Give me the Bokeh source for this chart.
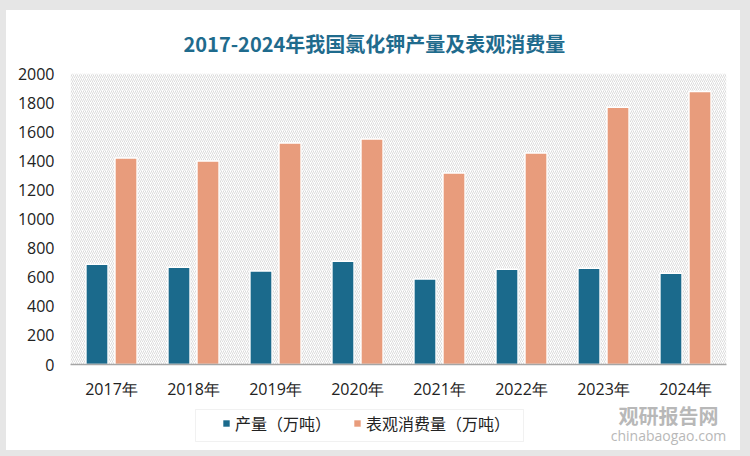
from bokeh.plotting import figure
from bokeh.models import (FactorRange, Range1d, BoxAnnotation, Label, Legend, LegendItem,
                          ColumnDataSource, SingleIntervalTicker, Title)
from bokeh.transform import dodge
from bokeh.layouts import column
from bokeh.embed import file_html
from bokeh.resources import INLINE

years = ["2017年", "2018年", "2019年", "2020年", "2021年", "2022年", "2023年", "2024年"]
production = [689, 669, 642, 710, 587, 655, 662, 628]
consumption = [1420, 1399, 1522, 1550, 1317, 1454, 1768, 1877]
title_text = "2017-2024年我国氯化钾产量及表观消费量"
series_names = ["产量（万吨）", "表观消费量（万吨）"]
colors = ["#1b6a8c", "#e89c7c"]

src = ColumnDataSource(dict(year=years, prod=production, cons=consumption))

p = figure(width=734, height=392, x_range=FactorRange(*years), y_range=(0, 2000),
           output_backend="svg", toolbar_location=None,
           min_border_left=64, min_border_right=14, min_border_top=63, min_border_bottom=36,
           background_fill_color="white", border_fill_color="white", outline_line_color=None)

p.title = Title(text=title_text, align="left", offset=113, standoff=31,
                text_font="Noto Sans CJK SC", text_font_size="20px",
                text_font_style="bold", text_color="#1f6b8d")

# hatched plot background
p.add_layout(BoxAnnotation(fill_color=None, line_color=None, hatch_pattern="/",
                           hatch_color="#dcdcdc", hatch_scale=4, hatch_weight=1,
                           level="underlay"))

# subtle shadows
p.vbar(x=dodge("year", -0.165, range=p.x_range), top="prod", width=0.27, source=src,
       fill_color="#9a9a9a", fill_alpha=0.35, line_color=None)
p.vbar(x=dodge("year", 0.189, range=p.x_range), top="cons", width=0.27, source=src,
       fill_color="#9a9a9a", fill_alpha=0.35, line_color=None)

p.vbar(x=dodge("year", -0.177, range=p.x_range), top="prod", width=0.27, source=src,
       fill_color=colors[0], line_color="white", line_width=1.5)
p.vbar(x=dodge("year", 0.177, range=p.x_range), top="cons", width=0.27, source=src,
       fill_color=colors[1], line_color="white", line_width=1.5)

p.xgrid.grid_line_color = None
p.ygrid.grid_line_color = None

p.yaxis.ticker = SingleIntervalTicker(interval=200)
p.yaxis.axis_line_color = None
p.yaxis.major_tick_line_color = None
p.yaxis.minor_tick_line_color = None
p.yaxis.major_tick_out = 0
p.yaxis.major_label_text_font = "Open Sans"
p.yaxis.major_label_text_font_size = "16px"
p.yaxis.major_label_text_color = "#222222"
p.yaxis.major_label_standoff = 12

p.xaxis.axis_line_color = "#a6a6a6"
p.xaxis.axis_line_width = 1.5
p.xaxis.major_tick_line_color = None
p.xaxis.minor_tick_line_color = None
p.xaxis.major_tick_out = 0
p.xaxis.major_label_text_font = "Open Sans"
p.xaxis.major_label_text_font_size = "16px"
p.xaxis.major_label_text_color = "#222222"
p.xaxis.major_label_standoff = 13

# legend strip (its frame is aligned with the main frame: x 70..726)
q = figure(width=734, height=48, x_range=FactorRange(*years), y_range=Range1d(5000, 6000),
           output_backend="svg", toolbar_location=None, x_axis_type=None, y_axis_type=None,
           min_border_left=0, min_border_right=0, min_border_top=0, min_border_bottom=0,
           background_fill_color="white", border_fill_color="white", outline_line_color=None)
q.xgrid.grid_line_color = None
q.ygrid.grid_line_color = None
l1 = q.vbar(x="year", top="prod", width=0.27, source=src, fill_color=colors[0], line_color=None)
l2 = q.vbar(x="year", top="cons", width=0.27, source=src, fill_color=colors[1], line_color=None)

q.add_layout(BoxAnnotation(left=125, right=453, bottom=9, top=41,
                           left_units="screen", right_units="screen",
                           bottom_units="screen", top_units="screen",
                           fill_color=None, line_color="#d0d0d0", line_width=1))

legend = Legend(items=[LegendItem(label=series_names[0], renderers=[l1]),
                       LegendItem(label=series_names[1], renderers=[l2])],
                location=(152, 15), orientation="horizontal",
                glyph_width=8, glyph_height=8, label_text_font="Noto Sans CJK SC",
                label_text_font_size="16px", label_text_color="#222222",
                border_line_color=None, background_fill_alpha=0,
                padding=8, spacing=22, margin=0, label_standoff=5)
q.add_layout(legend, "center")

q.add_layout(Label(x=598, y=35, x_units="screen", y_units="screen", text="观研报告网",
                   text_align="center", text_baseline="middle", text_font="Noto Sans CJK SC",
                   text_font_size="20px", text_font_style="bold", text_color="#b8b8b8"))
q.add_layout(Label(x=598, y=15, x_units="screen", y_units="screen", text="chinabaogao.com",
                   text_align="center", text_baseline="middle", text_font="Open Sans",
                   text_font_size="14px", text_color="#b8b8b8"))

inner = column(p, q, spacing=0, styles={"background-color": "white"})
layout = column(inner, styles={"background-color": "#e6e6e6", "padding": "10px 10px 6px 6px"})

open("out.html", "w").write(file_html(layout, INLINE))
